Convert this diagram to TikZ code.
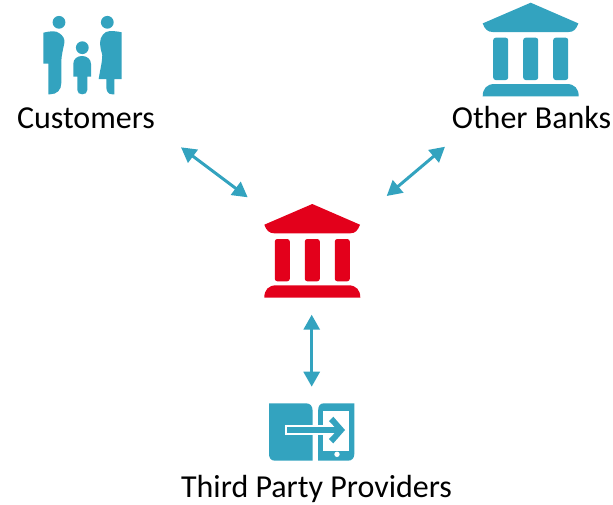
\documentclass[tikz,border=0pt]{standalone}
\usepackage{fontspec}
\setmainfont{Carlito}
\usetikzlibrary{arrows.meta}
\definecolor{teal1}{HTML}{33A3BF}
\definecolor{red1}{HTML}{E3001B}
\tikzset{
  lbl/.style={font=\fontsize{32pt}{36pt}\selectfont,text=black,inner sep=0pt,anchor=base},
  link/.style={draw=teal1,line width=3pt,{Triangle[length=15pt,width=16pt]}-{Triangle[length=15pt,width=16pt]}}
}
\newcommand{\bankicon}[3]{%
 \begin{scope}[shift={(#1,#2)}]
  \fill[#3] (0,0) -- (47.7,20.7) .. controls (45.5,26.5) and (43,29.3) .. (38,29.3)
     -- (-38,29.3) .. controls (-43,29.3) and (-46,26.5) .. (-48,20.7) -- cycle;
  \foreach \cx in {-30,0,30}{
    \fill[#3,rounded corners=2.5pt] (\cx-7.5,35) rectangle (\cx+7.5,77.3);
  }
  \fill[#3] (-48,93.7) .. controls (-48,86) and (-44,81.3) .. (-36,81.3) -- (36,81.3)
     .. controls (44,81.3) and (48,86) .. (48,93.7) -- cycle;
 \end{scope}}
\begin{document}
\begin{tikzpicture}[x=1pt,y=-1pt]
\useasboundingbox (0,0) rectangle (613,504);
% customers
\fill[teal1] (59,22.3) circle (6.4pt) (82.3,47.7) circle (6.4pt) (107.3,22.3) circle (6.4pt);
\fill[teal1] (43.3,32.7) .. controls (50,31) and (56,30.5) .. (59,33) .. controls (63,35.5) and (65,39) .. (64.3,43)
  .. controls (63,50) and (61.3,56) .. (61.3,62) -- (61.3,83) .. controls (61.3,90) and (57,94.3) .. (50,94.3) -- (48.3,94.3) -- (48.3,63.7) -- (43.3,63.7) -- cycle;
\fill[teal1] (73.3,76.7) -- (73.3,64) .. controls (73.3,59) and (77,56) .. (82,56) .. controls (87,56) and (91,59) .. (91,64) -- (91,76.7)
  -- (87.3,76.7) -- (87.3,90) .. controls (87.3,93) and (85,94.3) .. (82.3,94.3) .. controls (79.5,94.3) and (77.3,93) .. (77.3,90) -- (77.3,76.7) -- cycle;
\fill[teal1] (121.7,32.3) -- (121.7,79) -- (114.3,79) -- (114.3,94.3) -- (112,94.3) .. controls (108,94.3) and (106.3,91) .. (106.3,87) -- (106.3,79) -- (98.7,79)
  .. controls (100,70) and (102.3,62) .. (102.3,55) .. controls (101,50) and (100,47) .. (100,43.3) .. controls (100,37) and (104,31) .. (110,31) .. controls (114,31) and (118,31.5) .. (121.7,32.3) -- cycle;
\node[lbl] (cust) at (86,128.3) {Customers};
% banks
\bankicon{530.7}{2.7}{teal1}
\bankicon{312.3}{204}{red1}
\node[lbl] (other) at (531.5,128.3) {Other Banks};
\coordinate (c1) at (181,147.3);
\coordinate (c2) at (247.7,197.3);
\coordinate (o1) at (445,146.7);
\coordinate (o2) at (386.7,196);
\coordinate (t1) at (311.7,314.7);
\coordinate (t2) at (311.7,386.7);
\draw[link] (c1) -- (c2);
\draw[link] (o1) -- (o2);
\draw[link] (t1) -- (t2);
% third party icon
\fill[teal1] (269,403.3) -- (306,403.3) .. controls (310,403.3) and (312.5,406) .. (312.5,410) -- (312.5,460.7) -- (275,460.7) .. controls (271,460.7) and (269,458) .. (269,454) -- cycle;
\fill[teal1] (354.3,403.3) -- (324,403.3) .. controls (320,403.3) and (318.2,406) .. (318.2,410) -- (318.2,460.7) -- (348,460.7) .. controls (352,460.7) and (354.3,458) .. (354.3,454) -- cycle;
\fill[white] (323,410.5) rectangle (349,450.5);
\fill[white] (337,454.3) circle (2.7pt);
\fill[white] (285,425) rectangle (324,435);
\fill[teal1] (287.3,427.3) rectangle (340,432.7);
\fill[teal1] (333.3,416.7) -- (345,430) -- (333.3,443.3) -- (329,439) -- (337.5,430) -- (329,421) -- cycle;
\node[lbl] (tpp) at (316.5,497) {Third Party Providers};
\end{tikzpicture}
\end{document}
